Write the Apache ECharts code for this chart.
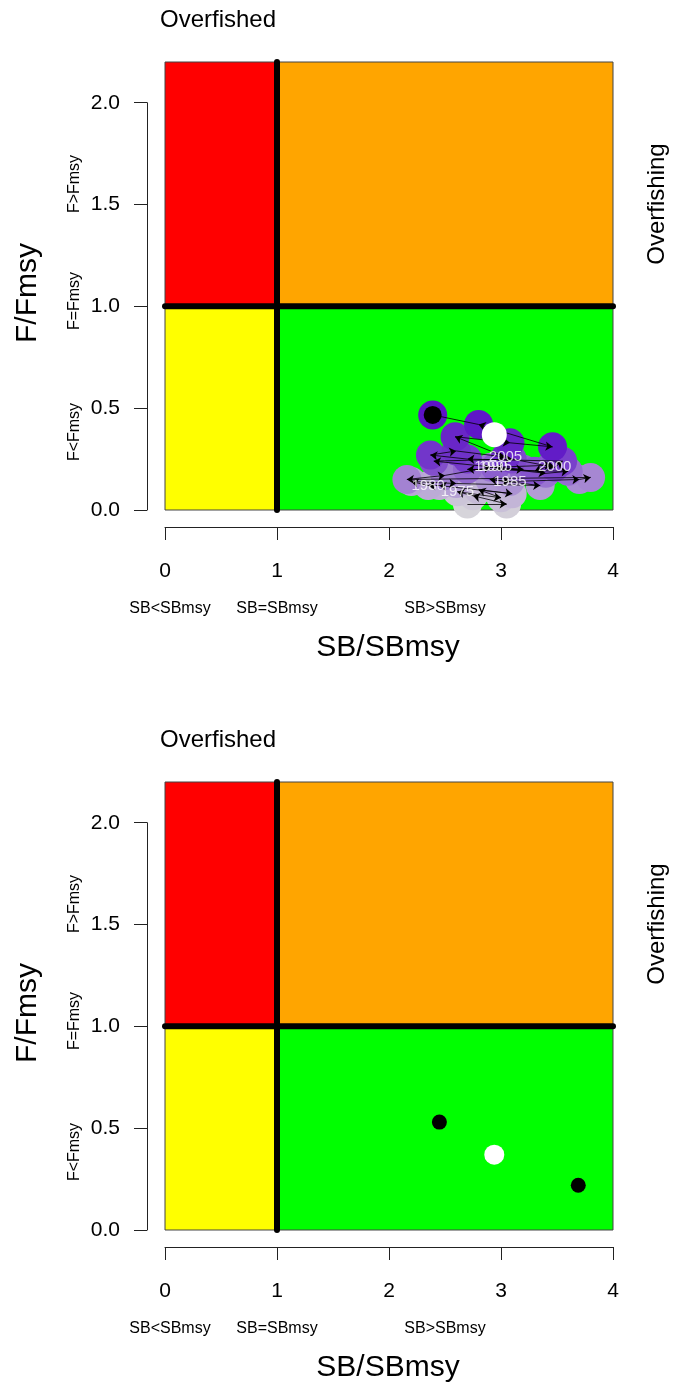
<!DOCTYPE html>
<html>
<head>
<meta charset="utf-8">
<script src="https://cdn.jsdelivr.net/npm/echarts@6/dist/echarts.min.js"></script>
<style>
html,body{margin:0;padding:0;background:#fff;}
#chart{width:675px;height:1387px;}
</style>
</head>
<body>
<div id="chart"></div>
<script>
// ---- data ----
const years = [1972,1973,1974,1975,1976,1977,1978,1979,1980,1981,1982,1983,1984,1985,1986,1987,1988,1989,1990,1991,1992,1993,1994,1995,1996,1997,1998,1999,2000,2001,2002,2003,2004,2005,2006,2007,2008,2009,2010];
const sbRatio = [2.70,3.05,2.75,2.61,3.00,2.80,3.10,2.45,2.35,2.20,2.60,3.35,2.90,3.08,3.70,3.80,2.16,2.50,2.91,3.40,3.60,2.70,3.20,2.95,3.45,3.30,2.40,3.10,3.48,3.55,2.70,2.37,2.60,3.04,2.59,3.08,3.46,2.80,2.39];
const fRatio  = [0.03,0.03,0.07,0.09,0.06,0.10,0.08,0.12,0.12,0.14,0.13,0.12,0.15,0.14,0.15,0.16,0.15,0.17,0.21,0.18,0.19,0.20,0.20,0.21,0.22,0.19,0.24,0.25,0.21,0.24,0.25,0.27,0.29,0.26,0.36,0.33,0.31,0.42,0.467];
const labelledYears = [1975,1980,1985,1990,1995,2000,2005];
const currentEstimate = [2.94, 0.37];
const ciLower = [2.45, 0.53];
const ciUpper = [3.69, 0.22];
const xTicks = [0,1,2,3,4];
const yTicks = [0,0.5,1.0,1.5,2.0];
const xRange = [0,4];
const yRange = [0,2.2];
const refLevel = 1;

// ---- helpers ----
const FONT = '"Liberation Sans", Arial, Helvetica, sans-serif';
const chart = echarts.init(document.getElementById('chart'), null, {renderer:'canvas'});
const n = years.length;
function pathColor(i){
  const t = i/(n-1);
  const a=[214,212,218], b=[92,18,198];
  const c=a.map((v,k)=>Math.round(v+(b[k]-v)*t));
  return 'rgb('+c.join(',')+')';
}
const trajectory = years.map((y,i)=>[sbRatio[i], fRatio[i], y]);
const arrows = [];
for(let i=0;i<n-1;i++) arrows.push({coords:[[sbRatio[i],fRatio[i]],[sbRatio[i+1],fRatio[i+1]]]});
const labelPts = trajectory.filter(p=>labelledYears.includes(p[2]));

const panelTop = [62, 782];
const plotH = 448;
const gridLeft = 165, gridW = 448;
const yAxisPixTop = v => v + plotH*(1 - yTicks[yTicks.length-1]/yRange[1]);

const grids=[], xAxes=[], yAxes=[], series=[], graphics=[];
panelTop.forEach((top,p)=>{
  grids.push({left:gridLeft, top:top, width:gridW, height:plotH});
  grids.push({left:gridLeft, top:yAxisPixTop(top), width:gridW, height:plotH - (yAxisPixTop(top)-top)});
  const gMain = grids.length-2, gAx = grids.length-1;
  xAxes.push({gridIndex:gMain, type:'value', min:xRange[0], max:xRange[1], interval:1, offset:17,
    axisLine:{show:true, onZero:false, lineStyle:{color:'#222', width:1}},
    axisTick:{show:true, length:13, lineStyle:{color:'#222'}},
    axisLabel:{margin:34, fontSize:21, color:'#000', fontFamily:FONT, formatter:v=>String(v)},
    splitLine:{show:false}});
  yAxes.push({gridIndex:gMain, type:'value', min:yRange[0], max:yRange[1], show:false, splitLine:{show:false}});
  xAxes.push({gridIndex:gAx, type:'value', min:xRange[0], max:xRange[1], show:false});
  yAxes.push({gridIndex:gAx, type:'value', min:yTicks[0], max:yTicks[yTicks.length-1], interval:0.5, offset:18,
    axisLine:{show:true, onZero:false, lineStyle:{color:'#222', width:1}},
    axisTick:{show:true, length:13, lineStyle:{color:'#222'}},
    axisLabel:{margin:27, fontSize:21, color:'#000', fontFamily:FONT, formatter:v=>v.toFixed(1)},
    splitLine:{show:false}});
  const xi = xAxes.length-2, yi = yAxes.length-2;
  const bc = '#444';
  series.push({type:'line', xAxisIndex:xi, yAxisIndex:yi, data:[], z:1, silent:true,
    markArea:{silent:true, data:[
      [{coord:[xRange[0],refLevel], itemStyle:{color:'#FF0000', borderColor:bc, borderWidth:1}},{coord:[refLevel,yRange[1]]}],
      [{coord:[refLevel,refLevel], itemStyle:{color:'#FFA500', borderColor:bc, borderWidth:1}},{coord:[xRange[1],yRange[1]]}],
      [{coord:[xRange[0],yRange[0]], itemStyle:{color:'#FFFF00', borderColor:bc, borderWidth:1}},{coord:[refLevel,refLevel]}],
      [{coord:[refLevel,yRange[0]], itemStyle:{color:'#00FF00', borderColor:bc, borderWidth:1}},{coord:[xRange[1],refLevel]}]
    ]}});
  series.push({type:'line', xAxisIndex:xi, yAxisIndex:yi, z:3, silent:true, symbol:'none',
    data:[[refLevel,yRange[0]],[refLevel,yRange[1]]], lineStyle:{color:'#000', width:6, cap:'round'}});
  series.push({type:'line', xAxisIndex:xi, yAxisIndex:yi, z:3, silent:true, symbol:'none',
    data:[[xRange[0],refLevel],[xRange[1],refLevel]], lineStyle:{color:'#000', width:6, cap:'round'}});

  if(p===0){
    series.push({type:'scatter', xAxisIndex:xi, yAxisIndex:yi, z:4, silent:true, symbolSize:29,
      data:trajectory, itemStyle:{color:(pr)=>pathColor(pr.dataIndex), opacity:1}});
    series.push({type:'lines', coordinateSystem:'cartesian2d', xAxisIndex:xi, yAxisIndex:yi, z:5, silent:true,
      symbol:['none','arrow'], symbolSize:7, data:arrows, lineStyle:{color:'#000', width:0.8, opacity:1}});
    series.push({type:'scatter', xAxisIndex:xi, yAxisIndex:yi, z:6, silent:true, symbolSize:0,
      data:labelPts, label:{show:true, position:'inside', formatter:pr=>String(pr.value[2]), color:'#fff', fontSize:15, fontFamily:FONT}});
    series.push({type:'scatter', xAxisIndex:xi, yAxisIndex:yi, z:7, silent:true, symbolSize:18,
      data:[trajectory[n-1]], itemStyle:{color:'#000', opacity:1}});
    series.push({type:'scatter', xAxisIndex:xi, yAxisIndex:yi, z:7, silent:true, symbolSize:25,
      data:[currentEstimate], itemStyle:{color:'#fff', opacity:1}});
  } else {
    series.push({type:'scatter', xAxisIndex:xi, yAxisIndex:yi, z:7, silent:true, symbolSize:15,
      data:[ciLower, ciUpper], itemStyle:{color:'#000', opacity:1}});
    series.push({type:'scatter', xAxisIndex:xi, yAxisIndex:yi, z:7, silent:true, symbolSize:20,
      data:[currentEstimate], itemStyle:{color:'#fff', opacity:1}});
  }

  const off = p*720;
  const txt = (x,y,t,size,rot)=>({type:'text', x:x, y:y+off, rotation:rot||0, silent:true,
    style:{text:t, fontSize:size, fontFamily:FONT, fill:'#000', textAlign:'center', textVerticalAlign:'middle'}});
  graphics.push({type:'text', x:160, y:20+off, silent:true, style:{text:'Overfished', fontSize:24, fontFamily:FONT, fill:'#000', textAlign:'left', textVerticalAlign:'middle'}});
  graphics.push(txt(657, 204, 'Overfishing', 24, Math.PI/2));
  graphics.push(txt(28, 293, 'F/Fmsy', 30, Math.PI/2));
  graphics.push(txt(75, 184, 'F>Fmsy', 16, Math.PI/2));
  graphics.push(txt(75, 301, 'F=Fmsy', 16, Math.PI/2));
  graphics.push(txt(75, 432, 'F<Fmsy', 16, Math.PI/2));
  graphics.push(txt(170, 609, 'SB<SBmsy', 16));
  graphics.push(txt(277, 609, 'SB=SBmsy', 16));
  graphics.push(txt(445, 609, 'SB>SBmsy', 16));
  graphics.push(txt(388, 648, 'SB/SBmsy', 30));
});

chart.setOption({
  animation:false,
  backgroundColor:'#fff',
  textStyle:{fontFamily:FONT},
  grid:grids, xAxis:xAxes, yAxis:yAxes, series:series, graphic:graphics
});
</script>
</body>
</html>
